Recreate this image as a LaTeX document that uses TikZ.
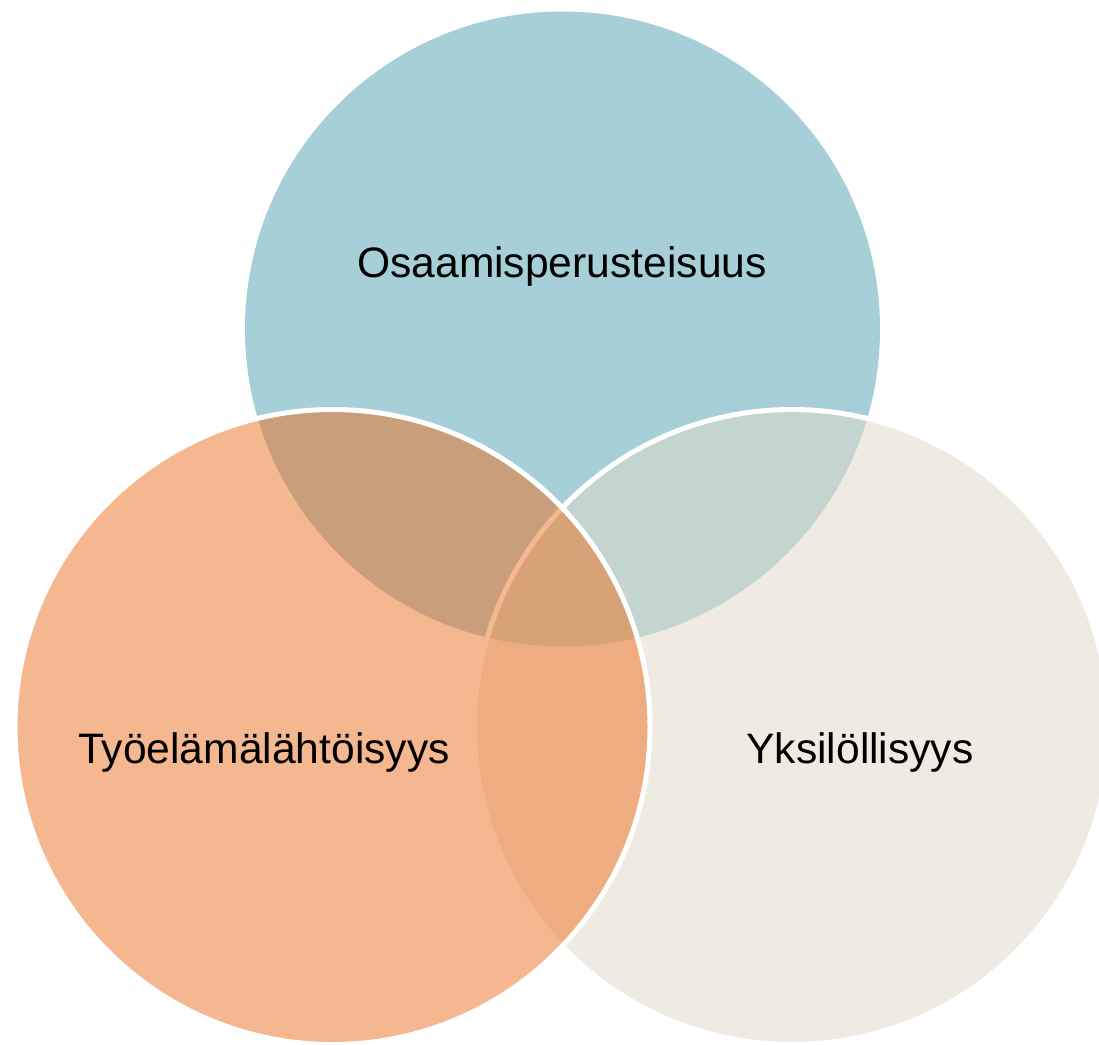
\documentclass[tikz,border=0pt]{standalone}
\usepackage{fontspec}
\setmainfont{Liberation Sans}
\definecolor{topblue}{RGB}{166,207,215}
\definecolor{leftorange}{RGB}{237,113,33}
\definecolor{rightbeige}{RGB}{227,217,199}
\begin{document}
\begin{tikzpicture}[x=1pt,y=-1pt,
  venn/.style={circle, minimum size=635pt, inner sep=0pt, outer sep=0pt},
  lbl/.style={anchor=base, inner sep=0pt, font=\fontsize{42.6}{50}\selectfont, text=black}]
\useasboundingbox (0,0) rectangle (1099,1044);
\clip (0,0) rectangle (1099,1044);
\fill[white] (0,0) rectangle (1099,1044);
\node[venn, fill=topblue] (top) at (562.5,329) {};
\node[venn, fill=rightbeige, fill opacity=0.5, draw=white, draw opacity=1, line width=5pt] (right) at (792,727) {};
\node[venn, fill=leftorange, fill opacity=0.5, draw=white, draw opacity=1, line width=5pt] (left) at (332.5,727) {};
\node[lbl] (ttop) at (562,277) {Osaamisperusteisuus};
\node[lbl] (tleft) at (264,763) {Työelämälähtöisyys};
\node[lbl] (tright) at (860,763) {Yksilöllisyys};
\end{tikzpicture}
\end{document}
